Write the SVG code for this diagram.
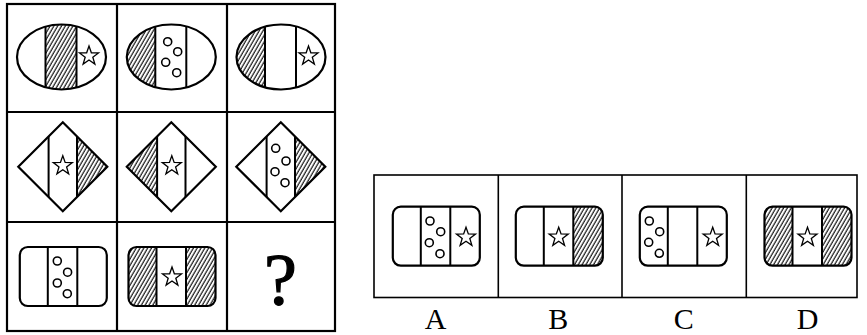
<svg xmlns="http://www.w3.org/2000/svg" xmlns:xlink="http://www.w3.org/1999/xlink" width="867" height="335" viewBox="0 0 867 335">
<style>
.o{fill:none;stroke:#000;stroke-width:2.2}
.d{stroke:#000;stroke-width:2}
.g{fill:none;stroke:#000;stroke-width:2.2}
.p{fill:none;stroke:#000;stroke-width:1.6}
.c{fill:none;stroke:#000;stroke-width:1.6}
.s{fill:none;stroke:#000;stroke-width:1.3;stroke-linejoin:miter}
.lbl{font-family:"Liberation Serif","Times New Roman",serif;font-size:30px;fill:#000;text-anchor:middle}
.q{font-family:"Liberation Serif","Times New Roman",serif;font-size:74px;fill:#000;stroke:#000;stroke-width:1.2;text-anchor:middle}
</style>
<defs>
<pattern id="h" patternUnits="userSpaceOnUse" width="3.3" height="10" patternTransform="rotate(30)">
<line x1="1" y1="-1" x2="1" y2="11" stroke="#000" stroke-width="1.1"/>
</pattern>
<clipPath id="ce"><ellipse cx="0" cy="0" rx="44.5" ry="32.5"/></clipPath>
<clipPath id="cd"><polygon points="0,-44.5 44.5,0 0,44.5 -44.5,0"/></clipPath>
<clipPath id="cr"><rect x="-43.5" y="-29.5" width="87" height="59" rx="8" ry="8"/></clipPath>
<path id="star" class="s" d="M0,-10 L2.351,-3.236 L9.511,-3.09 L3.804,1.236 L5.878,8.09 L0,4 L-5.878,8.09 L-3.804,1.236 L-9.511,-3.09 L-2.351,-3.236 Z"/>
</defs>
<rect width="867" height="335" fill="#fff"/>

<g id="grid">
<rect class="g" x="7" y="4" width="328" height="327"/>
<line class="g" x1="117" y1="4" x2="117" y2="331"/>
<line class="g" x1="227" y1="4" x2="227" y2="331"/>
<line class="g" x1="7" y1="112" x2="335" y2="112"/>
<line class="g" x1="7" y1="222" x2="335" y2="222"/>
</g>

<g id="options-box">
<rect class="p" x="374" y="175" width="483" height="122.5"/>
<line class="p" x1="498.3" y1="175" x2="498.3" y2="297.5"/>
<line class="p" x1="622" y1="175" x2="622" y2="297.5"/>
<line class="p" x1="746.3" y1="175" x2="746.3" y2="297.5"/>
</g>

<!-- Row 1 -->
<g id="r1c1" transform="translate(61.5,57)">
<g clip-path="url(#ce)">
<rect x="-16" y="-40" width="31" height="80" fill="url(#h)"/>
<line class="d" x1="-16" y1="-40" x2="-16" y2="40"/>
<line class="d" x1="15" y1="-40" x2="15" y2="40"/>
</g>
<ellipse class="o" rx="44.5" ry="32.5"/>
<use xlink:href="#star" x="27.5" y="-1"/>
</g>

<g id="r1c2" transform="translate(171.3,57)">
<g clip-path="url(#ce)">
<rect x="-50" y="-40" width="34" height="80" fill="url(#h)"/>
<line class="d" x1="-16" y1="-40" x2="-16" y2="40"/>
<line class="d" x1="15" y1="-40" x2="15" y2="40"/>
</g>
<ellipse class="o" rx="44.5" ry="32.5"/>
<circle class="c" cx="-3.6" cy="-15.3" r="4"/>
<circle class="c" cx="6.4" cy="-5.3" r="4"/>
<circle class="c" cx="-5.6" cy="5.3" r="4"/>
<circle class="c" cx="5.4" cy="15.7" r="4"/>
</g>

<g id="r1c3" transform="translate(281,57)">
<g clip-path="url(#ce)">
<rect x="-50" y="-40" width="34" height="80" fill="url(#h)"/>
<line class="d" x1="-16" y1="-40" x2="-16" y2="40"/>
<line class="d" x1="15" y1="-40" x2="15" y2="40"/>
</g>
<ellipse class="o" rx="44.5" ry="32.5"/>
<use xlink:href="#star" x="27.5" y="-1"/>
</g>

<!-- Row 2 -->
<g id="r2c1" transform="translate(62.8,166.7)">
<g clip-path="url(#cd)">
<rect x="14.2" y="-50" width="40" height="100" fill="url(#h)"/>
<line class="d" x1="-14.2" y1="-50" x2="-14.2" y2="50"/>
<line class="d" x1="14.2" y1="-50" x2="14.2" y2="50"/>
</g>
<polygon class="o" points="0,-44.5 44.5,0 0,44.5 -44.5,0"/>
<use xlink:href="#star" x="0" y="-1"/>
</g>

<g id="r2c2" transform="translate(171.3,166.7)">
<g clip-path="url(#cd)">
<rect x="-54.2" y="-50" width="40" height="100" fill="url(#h)"/>
<line class="d" x1="-14.2" y1="-50" x2="-14.2" y2="50"/>
<line class="d" x1="14.2" y1="-50" x2="14.2" y2="50"/>
</g>
<polygon class="o" points="0,-44.5 44.5,0 0,44.5 -44.5,0"/>
<use xlink:href="#star" x="0.5" y="-1"/>
</g>

<g id="r2c3" transform="translate(280.8,166.7)">
<g clip-path="url(#cd)">
<rect x="14.2" y="-50" width="40" height="100" fill="url(#h)"/>
<line class="d" x1="-14.2" y1="-50" x2="-14.2" y2="50"/>
<line class="d" x1="14.2" y1="-50" x2="14.2" y2="50"/>
</g>
<polygon class="o" points="0,-44.5 44.5,0 0,44.5 -44.5,0"/>
<circle class="c" cx="-5.1" cy="-18.4" r="4"/>
<circle class="c" cx="5.2" cy="-5.7" r="4"/>
<circle class="c" cx="-5.8" cy="5" r="4"/>
<circle class="c" cx="4.2" cy="16" r="4"/>
</g>

<!-- Row 3 -->
<g id="r3c1" transform="translate(63.3,276.5)">
<g clip-path="url(#cr)">
<line class="d" x1="-15.5" y1="-35" x2="-15.5" y2="35"/>
<line class="d" x1="14" y1="-35" x2="14" y2="35"/>
</g>
<rect class="o" x="-43.5" y="-29.5" width="87" height="59" rx="8" ry="8"/>
<circle class="c" cx="-6" cy="-15.5" r="4"/>
<circle class="c" cx="4.3" cy="-4.3" r="4"/>
<circle class="c" cx="-6" cy="6.5" r="4"/>
<circle class="c" cx="4" cy="17.2" r="4"/>
</g>

<g id="r3c2" transform="translate(172,276.5)">
<g clip-path="url(#cr)">
<rect x="-50" y="-35" width="34.5" height="70" fill="url(#h)"/>
<rect x="14" y="-35" width="36" height="70" fill="url(#h)"/>
<line class="d" x1="-15.5" y1="-35" x2="-15.5" y2="35"/>
<line class="d" x1="14" y1="-35" x2="14" y2="35"/>
</g>
<rect class="o" x="-43.5" y="-29.5" width="87" height="59" rx="8" ry="8"/>
<use xlink:href="#star" x="0" y="0.5"/>
</g>

<g id="r3c3">
<text class="q" x="280.4" y="305">?</text>
</g>

<!-- Options -->
<g id="optA" transform="translate(436.3,236.2)">
<g clip-path="url(#cr)">
<line class="d" x1="-15.5" y1="-35" x2="-15.5" y2="35"/>
<line class="d" x1="14" y1="-35" x2="14" y2="35"/>
</g>
<rect class="o" x="-43.5" y="-29.5" width="87" height="59" rx="8" ry="8"/>
<circle class="c" cx="-6.3" cy="-15.2" r="4"/>
<circle class="c" cx="4.4" cy="-4.5" r="4"/>
<circle class="c" cx="-7" cy="6.5" r="4"/>
<circle class="c" cx="3.7" cy="17.5" r="4"/>
<use xlink:href="#star" x="29.7" y="1"/>
</g>
<text class="lbl" x="435.5" y="329">A</text>

<g id="optB" transform="translate(559.3,236.2)">
<g clip-path="url(#cr)">
<rect x="14" y="-35" width="36" height="70" fill="url(#h)"/>
<line class="d" x1="-15.5" y1="-35" x2="-15.5" y2="35"/>
<line class="d" x1="14" y1="-35" x2="14" y2="35"/>
</g>
<rect class="o" x="-43.5" y="-29.5" width="87" height="59" rx="8" ry="8"/>
<use xlink:href="#star" x="-0.6" y="1"/>
</g>
<text class="lbl" x="558.3" y="329">B</text>

<g id="optC" transform="translate(683.3,236.2)">
<g clip-path="url(#cr)">
<line class="d" x1="-15.5" y1="-35" x2="-15.5" y2="35"/>
<line class="d" x1="14" y1="-35" x2="14" y2="35"/>
</g>
<rect class="o" x="-43.5" y="-29.5" width="87" height="59" rx="8" ry="8"/>
<circle class="c" cx="-34" cy="-15.2" r="4"/>
<circle class="c" cx="-23.6" cy="-4.5" r="4"/>
<circle class="c" cx="-34.6" cy="6.1" r="4"/>
<circle class="c" cx="-24" cy="17.1" r="4"/>
<use xlink:href="#star" x="29.4" y="1"/>
</g>
<text class="lbl" x="683.7" y="329">C</text>

<g id="optD" transform="translate(808,236.2)">
<g clip-path="url(#cr)">
<rect x="-50" y="-35" width="34.5" height="70" fill="url(#h)"/>
<rect x="14" y="-35" width="36" height="70" fill="url(#h)"/>
<line class="d" x1="-15.5" y1="-35" x2="-15.5" y2="35"/>
<line class="d" x1="14" y1="-35" x2="14" y2="35"/>
</g>
<rect class="o" x="-43.5" y="-29.5" width="87" height="59" rx="8" ry="8"/>
<use xlink:href="#star" x="-0.5" y="1"/>
</g>
<text class="lbl" x="807.7" y="329">D</text>
</svg>
